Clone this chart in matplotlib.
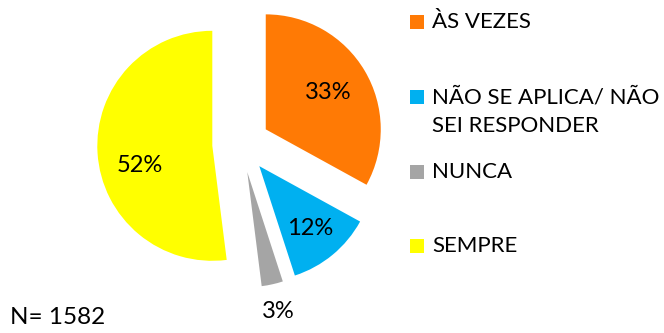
import numpy as np
import matplotlib.pyplot as plt
from matplotlib.patches import Rectangle

plt.rcParams['font.family'] = ['Lato', 'DejaVu Sans']

categories = ['ÀS VEZES', 'NÃO SE APLICA/ NÃO\nSEI RESPONDER', 'NUNCA', 'SEMPRE']
shares = [33, 12, 3, 52]
colors = ['#FF7A05', '#00B0F0', '#A5A5A5', '#FFFF00']
n_total = 1582

# label radius (fraction of wedge radius) and angle tweak per slice
label_dist = [0.63, 0.70, 1.24, 0.65]
label_shift = [0, 0, 0, 12]

fig = plt.figure(figsize=(6.64, 3.33), dpi=100)
W, H = 664, 333
R = 115            # pie radius in pixels
cx, cy = 241, 144  # pie centre in pixels from top-left
span = 2.6
size = span * R
ax = fig.add_axes([(cx - size / 2) / W, (H - cy - size / 2) / H, size / W, size / H])

wedges, _ = ax.pie(shares, colors=colors, startangle=90, counterclock=False,
                   explode=[0.25] * 4, radius=1.0,
                   wedgeprops=dict(linewidth=0))
ax.set_xlim(-span / 2, span / 2)
ax.set_ylim(-span / 2, span / 2)
ax.set_aspect('equal')
ax.axis('off')

for w, val, d, sh in zip(wedges, shares, label_dist, label_shift):
    mid = np.deg2rad((w.theta1 + w.theta2) / 2)
    ox, oy = w.center
    ang = mid + np.deg2rad(sh)
    ax.text(ox + d * np.cos(ang), oy + d * np.sin(ang), f'{val}%',
            ha='center', va='center', fontsize=17, color='black')

# legend drawn by hand, one row every 75 px
row_y = [22, 97, 172, 246]
for lab, col, y in zip(categories, colors, row_y):
    fig.add_artist(Rectangle((410 / W, 1 - (y + 7) / H), 14 / W, 14 / H,
                             transform=fig.transFigure, color=col, lw=0))
    fig.text(432 / W, 1 - (y - 10) / H, lab, ha='left', va='top',
             fontsize=16, linespacing=1.55)

fig.text(10 / W, 1 - 318 / H, f'N= {n_total}', ha='left', va='center', fontsize=17.5)

fig.savefig('out.png', dpi=100)
